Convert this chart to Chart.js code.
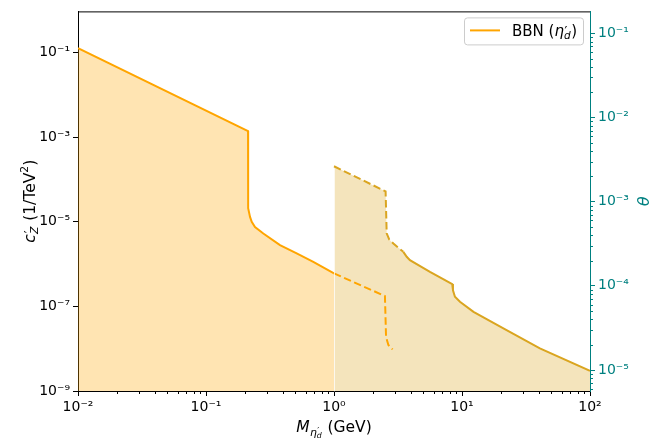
<!DOCTYPE html>
<html><head><meta charset="utf-8">
<script src="https://cdn.jsdelivr.net/npm/chart.js@4/dist/chart.umd.min.js"></script>
<style>html,body{margin:0;padding:0;background:#fff}canvas{display:block}</style>
</head><body>
<canvas id="c" width="652" height="439"></canvas>
<script>
// ---- data ----
const bbnSolidX = [0.01, 0.213, 0.2135, 0.2208, 0.2276, 0.2415, 0.2804, 0.3785, 0.511, 0.689, 1.0];
const bbnSolidY = [0.126, 1.38e-3, 2.08e-5, 1.30e-5, 9.9e-6, 7.5e-6, 5.27e-6, 2.8e-6, 1.78e-6, 1.12e-6, 6.0e-7];
const bbnDashX = [1.0, 2.50, 2.55, 2.66, 2.87];
const bbnDashY = [6.0e-7, 1.75e-7, 1.9e-8, 1.22e-8, 9.6e-9];
const heavyX = [1.0, 2.53, 2.58, 2.70, 2.91, 3.48, 3.70, 3.92, 5.62, 6.73, 8.39, 8.5, 8.81, 9.64, 12.3, 22.3, 40.6, 100];
const heavyY = [2.04e-4, 5.2e-5, 5.3e-6, 3.8e-6, 3.05e-6, 1.94e-6, 1.48e-6, 1.23e-6, 6.5e-7, 4.82e-7, 3.35e-7, 2.4e-7, 1.68e-7, 1.28e-7, 7.4e-8, 2.75e-8, 1.02e-8, 3.0e-9];
const heavyDashedBelow = 3.48;

const xTickValues = [0.01, 0.1, 1, 10, 100];
const xTickLabels = ['10⁻²', '10⁻¹', '10⁰', '10¹', '10²'];
const yTickValues = [1e-9, 1e-7, 1e-5, 1e-3, 1e-1];
const yTickLabels = ['10⁻⁹', '10⁻⁷', '10⁻⁵', '10⁻³', '10⁻¹'];
const thetaTickValues = [1e-5, 1e-4, 1e-3, 1e-2, 1e-1];
const thetaTickLabels = ['10⁻⁵', '10⁻⁴', '10⁻³', '10⁻²', '10⁻¹'];

const X_MIN = 0.01, X_MAX = 100;
const Y_MIN = 1e-9, Y_MAX = 0.929;
const T_MIN = 5.63e-6, T_MAX = 0.1824;

const FONT = '"DejaVu Sans"';
const FS = 14;        // tick labels
const FS_TITLE = 15.5; // axis titles
const FS_LEG = 15;    // legend
const TEAL = '#008080';

const pts = (xs, ys) => xs.map((x, i) => ({x, y: ys[i]}));

function layoutMath(ctx, parts, fs) {
  const items = [];
  let cx = 0, hold = 0;
  for (const p of parts) {
    const s = p.s || 1;
    const font = (p.it ? 'italic ' : '') + (fs * s).toFixed(2) + 'px ' + FONT;
    ctx.font = font;
    const tw = ctx.measureText(p.t).width;
    items.push({p, font, x: cx + (p.dx || 0) * fs});
    if (p.noAdv) hold = Math.max(hold, tw);
    else { cx += Math.max(tw, hold) + (p.gap || 0) * fs; hold = 0; }
  }
  return {items, width: cx};
}
function drawMath(ctx, parts, fs, x, y, align, color) {
  const L = layoutMath(ctx, parts, fs);
  const start = align === 'center' ? x - L.width / 2 : (align === 'right' ? x - L.width : x);
  ctx.fillStyle = color || '#000';
  ctx.textBaseline = 'alphabetic';
  ctx.textAlign = 'left';
  for (const it of L.items) {
    ctx.font = it.font;
    ctx.fillText(it.p.t, start + it.x, y - (it.p.dy || 0) * fs);
  }
  return L.width;
}

const yTitle = [{t:'c', it:true}, {t:'′', s:0.8, dy:0.1, noAdv:true, dx:0.05}, {t:'Z', it:true, s:0.7, dy:-0.22, gap:0.06}, {t:' (1/TeV'}, {t:'2', s:0.7, dy:0.42}, {t:')'}];
const xTitle = [{t:'M', it:true, gap:0.02}, {t:'η', it:true, s:0.7, dy:-0.24}, {t:'′', s:0.6, dy:-0.12, noAdv:true, dx:0.03}, {t:'d', it:true, s:0.5, dy:-0.38, gap:0.05}, {t:' (GeV)'}];
const legendText = [{t:'BBN ('}, {t:'η', it:true}, {t:'′', s:0.85, dy:0.06, noAdv:true, dx:0.03}, {t:'d', it:true, s:0.7, dy:-0.22, gap:0.05}, {t:')'}];

const decor = {
  id: 'decor',
  afterDatasetsDraw(chart) {
    const ctx = chart.ctx, a = chart.chartArea;
    const px = Math.round(chart.scales.x.getPixelForValue(heavyX[0])) + 0.5;
    const top = chart.scales.y.getPixelForValue(heavyY[0]);
    ctx.save();
    ctx.strokeStyle = 'rgba(255,255,255,0.75)'; ctx.lineWidth = 1;
    ctx.beginPath(); ctx.moveTo(px, a.bottom); ctx.lineTo(px, top + 2); ctx.stroke();
    ctx.restore();
  },
  afterDraw(chart) {
    const ctx = chart.ctx, a = chart.chartArea;
    const xs = chart.scales.x, yr = chart.scales.yR;
    ctx.save();
    ctx.lineWidth = 1;
    ctx.strokeStyle = '#000';
    for (let d = -2; d <= 1; d++) for (let k = 2; k <= 9; k++) {
      const v = k * Math.pow(10, d);
      const px = Math.round(xs.getPixelForValue(v)) + 0.5;
      ctx.beginPath(); ctx.moveTo(px, a.bottom); ctx.lineTo(px, a.bottom + 3); ctx.stroke();
    }
    ctx.beginPath(); ctx.moveTo(a.left, a.top + 0.5); ctx.lineTo(a.right, a.top + 0.5); ctx.stroke();
    ctx.strokeStyle = TEAL;
    for (let d = -6; d <= -1; d++) for (let k = 2; k <= 9; k++) {
      const v = k * Math.pow(10, d);
      if (v < T_MIN || v > T_MAX) continue;
      const py = Math.round(yr.getPixelForValue(v)) + 0.5;
      ctx.beginPath(); ctx.moveTo(a.right, py); ctx.lineTo(a.right + 3, py); ctx.stroke();
    }
    drawMath(ctx, xTitle, FS_TITLE, (a.left + a.right) / 2, 432, 'center', '#000');
    ctx.save(); ctx.translate(35, (a.top + a.bottom) / 2); ctx.rotate(-Math.PI / 2);
    drawMath(ctx, yTitle, FS_TITLE, 0, 0, 'center', '#000'); ctx.restore();
    ctx.save(); ctx.translate(649, (a.top + a.bottom) / 2); ctx.rotate(-Math.PI / 2);
    drawMath(ctx, [{t:'θ', it:true}], FS_TITLE, 0, 0, 'center', TEAL); ctx.restore();
    // legend
    const meas = layoutMath(ctx, legendText, FS_LEG).width;
    const pad = 0.4 * FS_LEG, handle = 2 * FS_LEG, hpad = 0.8 * FS_LEG;
    const W = Math.round(pad + handle + hpad + meas + pad);
    const H = 27;
    const bx = Math.round(a.right - 7 - W), by = a.top + 6;
    ctx.beginPath();
    if (ctx.roundRect) ctx.roundRect(bx + 0.5, by + 0.5, W, H, 3); else ctx.rect(bx + 0.5, by + 0.5, W, H);
    ctx.fillStyle = 'rgba(255,255,255,0.8)'; ctx.fill();
    ctx.strokeStyle = '#cccccc'; ctx.lineWidth = 1; ctx.stroke();
    ctx.strokeStyle = '#FFA500'; ctx.lineWidth = 2;
    ctx.beginPath(); ctx.moveTo(bx + pad, by + 13); ctx.lineTo(bx + pad + handle, by + 13); ctx.stroke();
    drawMath(ctx, legendText, FS_LEG, bx + pad + handle + hpad, by + 18.5, 'left', '#000');
    ctx.restore();
  }
};

Chart.defaults.font.family = FONT;
Chart.defaults.font.size = FS;
Chart.defaults.color = '#000';

function tickOpts(values, labels, color) {
  return {
    afterBuildTicks: s => { s.ticks = values.map(v => ({value: v, major: true})); },
    ticks: {
      color: color, padding: 3, autoSkip: false, maxRotation: 0,
      font: {size: FS, family: FONT},
      callback: (v, i) => labels[i]
    },
    grid: {display: true, drawOnChartArea: false, drawTicks: true, tickLength: 5, tickColor: color, tickWidth: 1},
    border: {display: true, color: color, width: 1}
  };
}

new Chart(document.getElementById('c'), {
  type: 'line',
  data: {
    datasets: [
      {label: 'BBN dashed', data: pts(bbnDashX, bbnDashY), borderColor: '#FFA500', borderWidth: 2,
       borderDash: [7.5, 3.5], pointRadius: 0, fill: false, tension: 0, order: 0, yAxisID: 'y'},
      {label: 'heavy line', data: pts(heavyX, heavyY), borderColor: '#DAA520', borderWidth: 2,
       pointRadius: 0, fill: false, tension: 0, order: 1, yAxisID: 'y',
       segment: {borderDash: c => c.p0.parsed.x < heavyDashedBelow ? [7.5, 3.5] : undefined}},
      {label: 'heavy region', data: pts(heavyX, heavyY), borderWidth: 0, borderColor: 'rgba(0,0,0,0)',
       backgroundColor: 'rgba(218,165,32,0.3)', pointRadius: 0, fill: 'start', tension: 0, order: 2, yAxisID: 'y'},
      {label: "BBN (η′d)", data: pts(bbnSolidX, bbnSolidY), borderColor: '#FFA500', borderWidth: 2,
       backgroundColor: 'rgba(255,165,0,0.3)', pointRadius: 0, fill: 'start', tension: 0, order: 3, yAxisID: 'y'}
    ]
  },
  options: {
    responsive: false, animation: false, devicePixelRatio: 1,
    layout: {padding: {top: 11, left: 0, right: 0, bottom: 0}},
    plugins: {legend: {display: false}, tooltip: {enabled: false}},
    scales: {
      x: Object.assign({type: 'logarithmic', position: 'bottom', min: X_MIN, max: X_MAX,
        afterFit: s => { s.height = 48; }}, tickOpts(xTickValues, xTickLabels, '#000')),
      y: Object.assign({type: 'logarithmic', position: 'left', min: Y_MIN, max: Y_MAX,
        afterFit: s => { s.width = 78; }}, tickOpts(yTickValues, yTickLabels, '#000')),
      yR: Object.assign({type: 'logarithmic', position: 'right', min: T_MIN, max: T_MAX,
        afterFit: s => { s.width = 62; }}, tickOpts(thetaTickValues, thetaTickLabels, TEAL))
    }
  },
  plugins: [decor]
});
</script>
</body></html>
